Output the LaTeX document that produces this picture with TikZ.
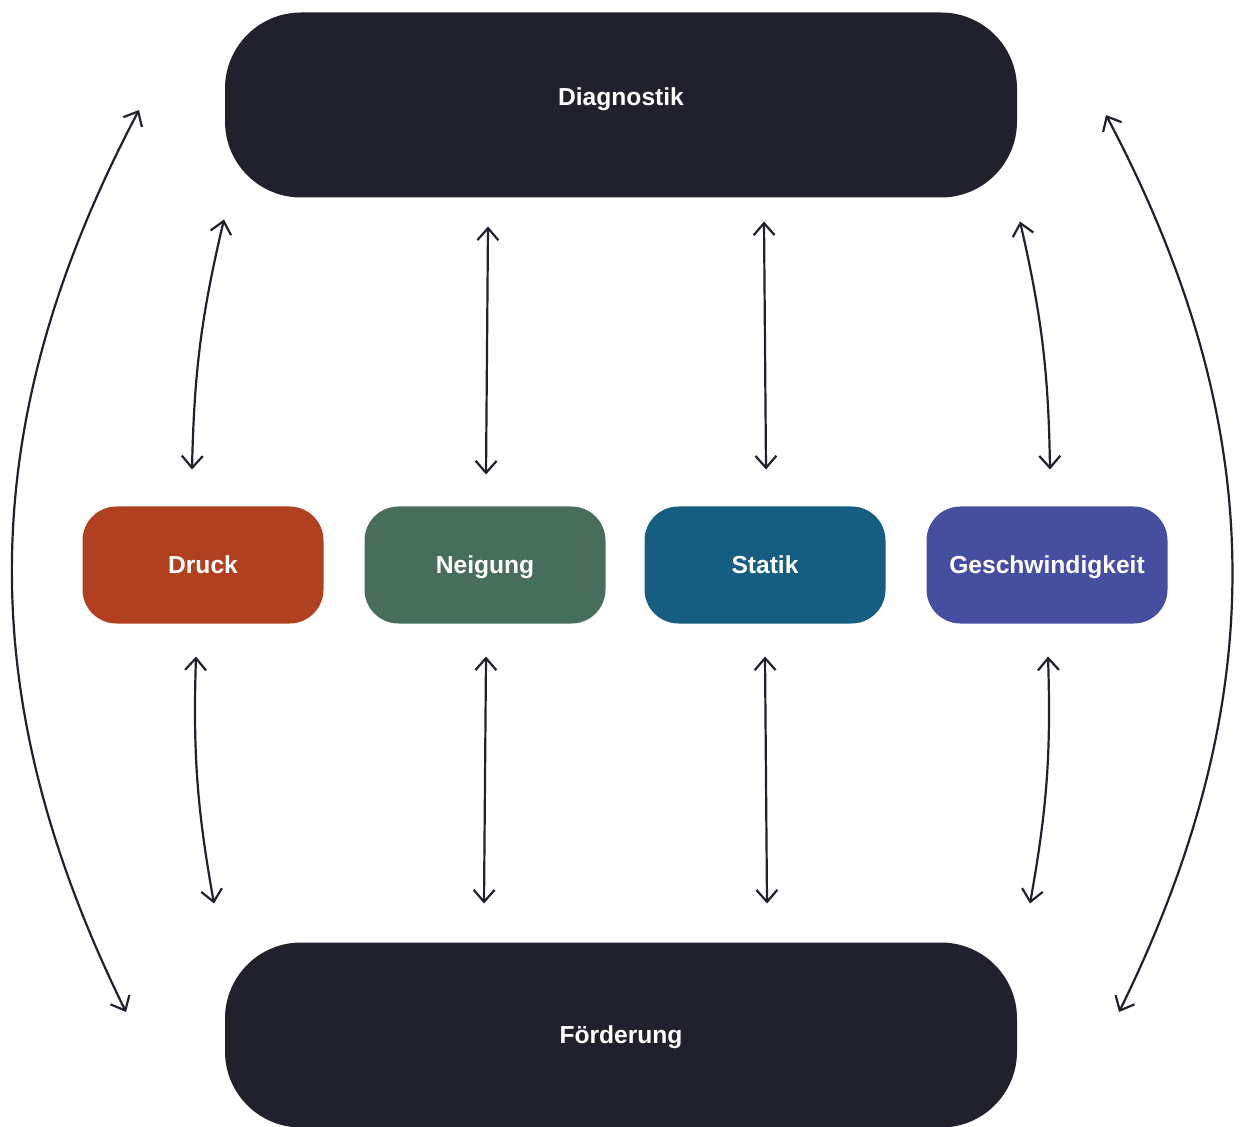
\documentclass[tikz,border=0pt]{standalone}
\usepackage{fontspec}
\setmainfont{Liberation Sans}
\usetikzlibrary{arrows.meta,calc}

\definecolor{boxdark}{RGB}{33,33,46}
\definecolor{druckred}{RGB}{176,64,31}
\definecolor{neigunggreen}{RGB}{71,110,90}
\definecolor{statikblue}{RGB}{21,94,130}
\definecolor{geschwviolet}{RGB}{70,78,160}

\tikzset{every picture/.style={line width=1pt}}
\tikzset{
  boxtext/.style={text=white, font=\fontsize{12.3}{15}\selectfont\bfseries,
    text height=8.8pt, text depth=0pt},
  bigbox/.style={boxtext, fill=boxdark, draw=none, rounded corners=38pt,
    minimum width=396pt, minimum height=92.5pt},
  smallbox/.style={boxtext, draw=none, rounded corners=17pt,
    minimum width=120.5pt, minimum height=58.5pt},
  link/.style={draw=boxdark, line width=1.1pt,
    {Straight Barb[length=6pt,width=10.5pt]}-{Straight Barb[length=6pt,width=10.5pt]}}
}

\begin{document}
\begin{tikzpicture}[x=0.5pt,y=-0.5pt]
\useasboundingbox (0,0) rectangle (1240,1127);

%Shape: Big Boxes
\node[bigbox, text depth=8pt] (diag) at (621,105) {Diagnostik};
\node[bigbox] (foerd) at (621,1035) {Förderung};

%Shape: Small Boxes
\node[smallbox, fill=druckred] (druck) at (203,565) {Druck};
\node[smallbox, fill=neigunggreen] (neig) at (485,565) {Neigung};
\node[smallbox, fill=statikblue] (statik) at (765,565) {Statik};
\node[smallbox, fill=geschwviolet] (geschw) at (1047,565) {Geschwindigkeit};

%Arrows: Diagnostik - Messgroessen
\draw[link] ($(druck.north)+(21,-286)$) to[bend right=6] ($(druck.north)+(-11,-36)$);
\draw[link] ($(neig.north)+(3,-279)$) -- ($(neig.north)+(1,-31)$);
\draw[link] ($(statik.north)+(-1,-284)$) -- ($(statik.north)+(1,-36)$);
\draw[link] ($(geschw.north)+(-27,-284)$) to[bend left=6] ($(geschw.north)+(3,-36)$);

%Arrows: Messgroessen - Foerderung
\draw[link] ($(druck.south)+(-7,32)$) to[bend right=6] ($(druck.south)+(11,279)$);
\draw[link] ($(neig.south)+(1,32)$) -- ($(neig.south)+(-1,279)$);
\draw[link] ($(statik.south)+(0,32)$) -- ($(statik.south)+(2,279)$);
\draw[link] ($(geschw.south)+(1,32)$) to[bend left=6] ($(geschw.south)+(-17,279)$);

%Arrows: Diagnostik - Foerderung
\draw[link] ($(diag.west)+(-85,5)$) to[bend right=27] ($(foerd.west)+(-98,-23)$);
\draw[link] ($(diag.east)+(88,10)$) to[bend left=27] ($(foerd.east)+(101,-23)$);

\end{tikzpicture}
\end{document}
